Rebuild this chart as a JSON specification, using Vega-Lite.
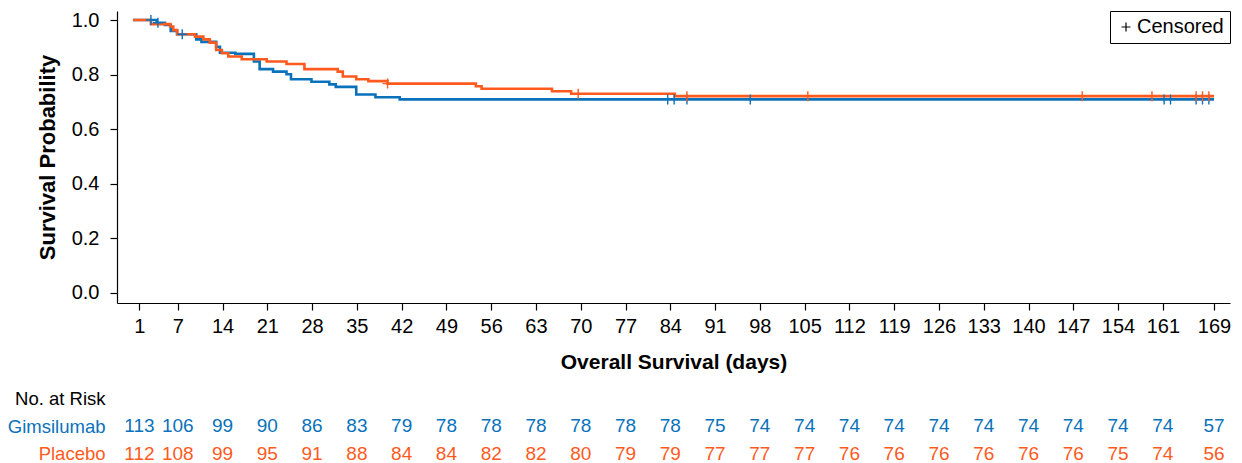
{
  "$schema": "https://vega.github.io/schema/vega-lite/v6.json",
  "background": "white",
  "padding": {"left": 7, "top": 10, "right": 6, "bottom": 0},
  "config": {
    "view": {"stroke": null},
    "font": "Liberation Sans",
    "axis": {"grid": false, "domainColor": "black", "tickColor": "black", "labelColor": "black", "titleColor": "black", "domainWidth": 1.2, "tickWidth": 1.2}
  },
  "datasets": {
    "curves": [
      {"group": "Gimsilumab", "day": 0, "surv": 1.0},
      {"group": "Gimsilumab", "day": 3.7, "surv": 0.990},
      {"group": "Gimsilumab", "day": 5.0, "surv": 0.982},
      {"group": "Gimsilumab", "day": 5.9, "surv": 0.960},
      {"group": "Gimsilumab", "day": 6.9, "surv": 0.948},
      {"group": "Gimsilumab", "day": 9.9, "surv": 0.929},
      {"group": "Gimsilumab", "day": 10.7, "surv": 0.920},
      {"group": "Gimsilumab", "day": 13.0, "surv": 0.902},
      {"group": "Gimsilumab", "day": 13.6, "surv": 0.880},
      {"group": "Gimsilumab", "day": 16.0, "surv": 0.876},
      {"group": "Gimsilumab", "day": 18.9, "surv": 0.848},
      {"group": "Gimsilumab", "day": 19.8, "surv": 0.820},
      {"group": "Gimsilumab", "day": 21.9, "surv": 0.811},
      {"group": "Gimsilumab", "day": 24.0, "surv": 0.801},
      {"group": "Gimsilumab", "day": 24.7, "surv": 0.783},
      {"group": "Gimsilumab", "day": 27.9, "surv": 0.774},
      {"group": "Gimsilumab", "day": 30.7, "surv": 0.764},
      {"group": "Gimsilumab", "day": 31.7, "surv": 0.755},
      {"group": "Gimsilumab", "day": 34.9, "surv": 0.727},
      {"group": "Gimsilumab", "day": 37.9, "surv": 0.717},
      {"group": "Gimsilumab", "day": 41.7, "surv": 0.709},
      {"group": "Gimsilumab", "day": 169, "surv": 0.709},
      {"group": "Placebo", "day": 0, "surv": 1.0},
      {"group": "Placebo", "day": 2.8, "surv": 0.985},
      {"group": "Placebo", "day": 5.8, "surv": 0.976},
      {"group": "Placebo", "day": 6.3, "surv": 0.963},
      {"group": "Placebo", "day": 6.9, "surv": 0.948},
      {"group": "Placebo", "day": 9.7, "surv": 0.939},
      {"group": "Placebo", "day": 11.0, "surv": 0.929},
      {"group": "Placebo", "day": 12.0, "surv": 0.917},
      {"group": "Placebo", "day": 13.0, "surv": 0.890},
      {"group": "Placebo", "day": 13.9, "surv": 0.878},
      {"group": "Placebo", "day": 14.9, "surv": 0.866},
      {"group": "Placebo", "day": 17.0, "surv": 0.856},
      {"group": "Placebo", "day": 20.9, "surv": 0.848},
      {"group": "Placebo", "day": 24.0, "surv": 0.839},
      {"group": "Placebo", "day": 26.8, "surv": 0.820},
      {"group": "Placebo", "day": 32.0, "surv": 0.811},
      {"group": "Placebo", "day": 32.8, "surv": 0.793},
      {"group": "Placebo", "day": 34.9, "surv": 0.783},
      {"group": "Placebo", "day": 36.8, "surv": 0.776},
      {"group": "Placebo", "day": 39.8, "surv": 0.767},
      {"group": "Placebo", "day": 53.6, "surv": 0.757},
      {"group": "Placebo", "day": 54.5, "surv": 0.748},
      {"group": "Placebo", "day": 65.5, "surv": 0.739},
      {"group": "Placebo", "day": 68.5, "surv": 0.730},
      {"group": "Placebo", "day": 84.7, "surv": 0.721},
      {"group": "Placebo", "day": 169, "surv": 0.721}
    ],
    "censored": [
      {"group": "Gimsilumab", "type": "Censored", "day": 2.8, "surv": 1.0},
      {"group": "Gimsilumab", "type": "Censored", "day": 3.9, "surv": 0.990},
      {"group": "Gimsilumab", "type": "Censored", "day": 7.7, "surv": 0.948},
      {"group": "Gimsilumab", "type": "Censored", "day": 83.6, "surv": 0.709},
      {"group": "Gimsilumab", "type": "Censored", "day": 84.6, "surv": 0.709},
      {"group": "Gimsilumab", "type": "Censored", "day": 86.6, "surv": 0.709},
      {"group": "Gimsilumab", "type": "Censored", "day": 96.5, "surv": 0.709},
      {"group": "Gimsilumab", "type": "Censored", "day": 161.2, "surv": 0.709},
      {"group": "Gimsilumab", "type": "Censored", "day": 162.2, "surv": 0.709},
      {"group": "Gimsilumab", "type": "Censored", "day": 166.2, "surv": 0.709},
      {"group": "Gimsilumab", "type": "Censored", "day": 167.2, "surv": 0.709},
      {"group": "Gimsilumab", "type": "Censored", "day": 168.2, "surv": 0.709},
      {"group": "Placebo", "type": "Censored", "day": 39.8, "surv": 0.767},
      {"group": "Placebo", "type": "Censored", "day": 69.6, "surv": 0.730},
      {"group": "Placebo", "type": "Censored", "day": 86.6, "surv": 0.721},
      {"group": "Placebo", "type": "Censored", "day": 105.5, "surv": 0.721},
      {"group": "Placebo", "type": "Censored", "day": 148.4, "surv": 0.721},
      {"group": "Placebo", "type": "Censored", "day": 159.3, "surv": 0.721},
      {"group": "Placebo", "type": "Censored", "day": 166.2, "surv": 0.721},
      {"group": "Placebo", "type": "Censored", "day": 167.2, "surv": 0.721},
      {"group": "Placebo", "type": "Censored", "day": 168.2, "surv": 0.721}
    ],
    "risk": [
      {"group": "Gimsilumab", "day": 1, "n": 113},
      {"group": "Gimsilumab", "day": 7, "n": 106},
      {"group": "Gimsilumab", "day": 14, "n": 99},
      {"group": "Gimsilumab", "day": 21, "n": 90},
      {"group": "Gimsilumab", "day": 28, "n": 86},
      {"group": "Gimsilumab", "day": 35, "n": 83},
      {"group": "Gimsilumab", "day": 42, "n": 79},
      {"group": "Gimsilumab", "day": 49, "n": 78},
      {"group": "Gimsilumab", "day": 56, "n": 78},
      {"group": "Gimsilumab", "day": 63, "n": 78},
      {"group": "Gimsilumab", "day": 70, "n": 78},
      {"group": "Gimsilumab", "day": 77, "n": 78},
      {"group": "Gimsilumab", "day": 84, "n": 78},
      {"group": "Gimsilumab", "day": 91, "n": 75},
      {"group": "Gimsilumab", "day": 98, "n": 74},
      {"group": "Gimsilumab", "day": 105, "n": 74},
      {"group": "Gimsilumab", "day": 112, "n": 74},
      {"group": "Gimsilumab", "day": 119, "n": 74},
      {"group": "Gimsilumab", "day": 126, "n": 74},
      {"group": "Gimsilumab", "day": 133, "n": 74},
      {"group": "Gimsilumab", "day": 140, "n": 74},
      {"group": "Gimsilumab", "day": 147, "n": 74},
      {"group": "Gimsilumab", "day": 154, "n": 74},
      {"group": "Gimsilumab", "day": 161, "n": 74},
      {"group": "Gimsilumab", "day": 169, "n": 57},
      {"group": "Placebo", "day": 1, "n": 112},
      {"group": "Placebo", "day": 7, "n": 108},
      {"group": "Placebo", "day": 14, "n": 99},
      {"group": "Placebo", "day": 21, "n": 95},
      {"group": "Placebo", "day": 28, "n": 91},
      {"group": "Placebo", "day": 35, "n": 88},
      {"group": "Placebo", "day": 42, "n": 84},
      {"group": "Placebo", "day": 49, "n": 84},
      {"group": "Placebo", "day": 56, "n": 82},
      {"group": "Placebo", "day": 63, "n": 82},
      {"group": "Placebo", "day": 70, "n": 80},
      {"group": "Placebo", "day": 77, "n": 79},
      {"group": "Placebo", "day": 84, "n": 79},
      {"group": "Placebo", "day": 91, "n": 77},
      {"group": "Placebo", "day": 98, "n": 77},
      {"group": "Placebo", "day": 105, "n": 77},
      {"group": "Placebo", "day": 112, "n": 76},
      {"group": "Placebo", "day": 119, "n": 76},
      {"group": "Placebo", "day": 126, "n": 76},
      {"group": "Placebo", "day": 133, "n": 76},
      {"group": "Placebo", "day": 140, "n": 76},
      {"group": "Placebo", "day": 147, "n": 76},
      {"group": "Placebo", "day": 154, "n": 75},
      {"group": "Placebo", "day": 161, "n": 74},
      {"group": "Placebo", "day": 169, "n": 56}
    ]
  },
  "spacing": 17,
  "vconcat": [
    {
      "width": 1113,
      "height": 292,
      "encoding": {
        "x": {
          "field": "day", "type": "quantitative",
          "scale": {"domain": [-2.5, 171.5], "nice": false, "zero": false},
          "axis": {
            "values": [1, 7, 14, 21, 28, 35, 42, 49, 56, 63, 70, 77, 84, 91, 98, 105, 112, 119, 126, 133, 140, 147, 154, 161, 169],
            "tickSize": 7, "labelFontSize": 20, "labelPadding": 6, "labelFlush": false, "labelOverlap": false,
            "title": "Overall Survival (days)", "titleFontSize": 21, "titleFontWeight": "bold", "titlePadding": 15
          }
        },
        "y": {
          "field": "surv", "type": "quantitative",
          "scale": {"domain": [-0.037, 1.033], "nice": false, "zero": false},
          "axis": {
            "values": [0, 0.2, 0.4, 0.6, 0.8, 1.0], "format": ".1f",
            "tickSize": 7, "labelFontSize": 20, "labelPadding": 11, "labelFlush": false,
            "title": "Survival Probability", "titleFontSize": 22, "titleFontWeight": "bold", "titlePadding": 12
          }
        },
        "color": {
          "field": "group", "type": "nominal",
          "scale": {"domain": ["Gimsilumab", "Placebo"], "range": ["#0A72BA", "#FF5A1E"]},
          "legend": null
        }
      },
      "layer": [
        {
          "data": {"name": "curves"},
          "mark": {"type": "line", "interpolate": "step-after", "strokeWidth": 2.6}
        },
        {
          "data": {"name": "censored"},
          "mark": {"type": "point", "filled": false, "strokeWidth": 1.4, "size": 100, "opacity": 1},
          "encoding": {
            "shape": {
              "field": "type", "type": "nominal",
              "scale": {"domain": ["Censored"], "range": ["M0,-1V1M-1,0H1"]},
              "legend": {
                "title": null, "orient": "top-right", "offset": 0,
                "strokeColor": "black", "padding": 6,
                "labelFontSize": 20, "labelColor": "black", "labelOffset": 1,
                "symbolSize": 80, "symbolStrokeColor": "black", "symbolStrokeWidth": 1.2, "symbolFillColor": "transparent"
              }
            }
          }
        }
      ]
    },
    {
      "width": 1113,
      "height": 72,
      "data": {"name": "risk"},
      "mark": {"type": "text", "fontSize": 19},
      "encoding": {
        "x": {
          "field": "day", "type": "quantitative",
          "scale": {"domain": [-2.5, 171.5], "nice": false, "zero": false},
          "axis": null
        },
        "y": {
          "field": "group", "type": "nominal",
          "scale": {"type": "point", "domain": ["No. at Risk", "Gimsilumab", "Placebo"], "padding": 0.3},
          "axis": {
            "title": null, "domain": false, "ticks": false, "labelFontSize": 18.5, "labelPadding": 12,
            "labelColor": {"condition": [{"test": "datum.value === 'Gimsilumab'", "value": "#0A72BA"}, {"test": "datum.value === 'Placebo'", "value": "#FF5A1E"}], "value": "black"}
          }
        },
        "text": {"field": "n", "type": "quantitative"},
        "color": {
          "field": "group", "type": "nominal",
          "scale": {"domain": ["Gimsilumab", "Placebo"], "range": ["#0A72BA", "#FF5A1E"]},
          "legend": null
        }
      }
    }
  ]
}
